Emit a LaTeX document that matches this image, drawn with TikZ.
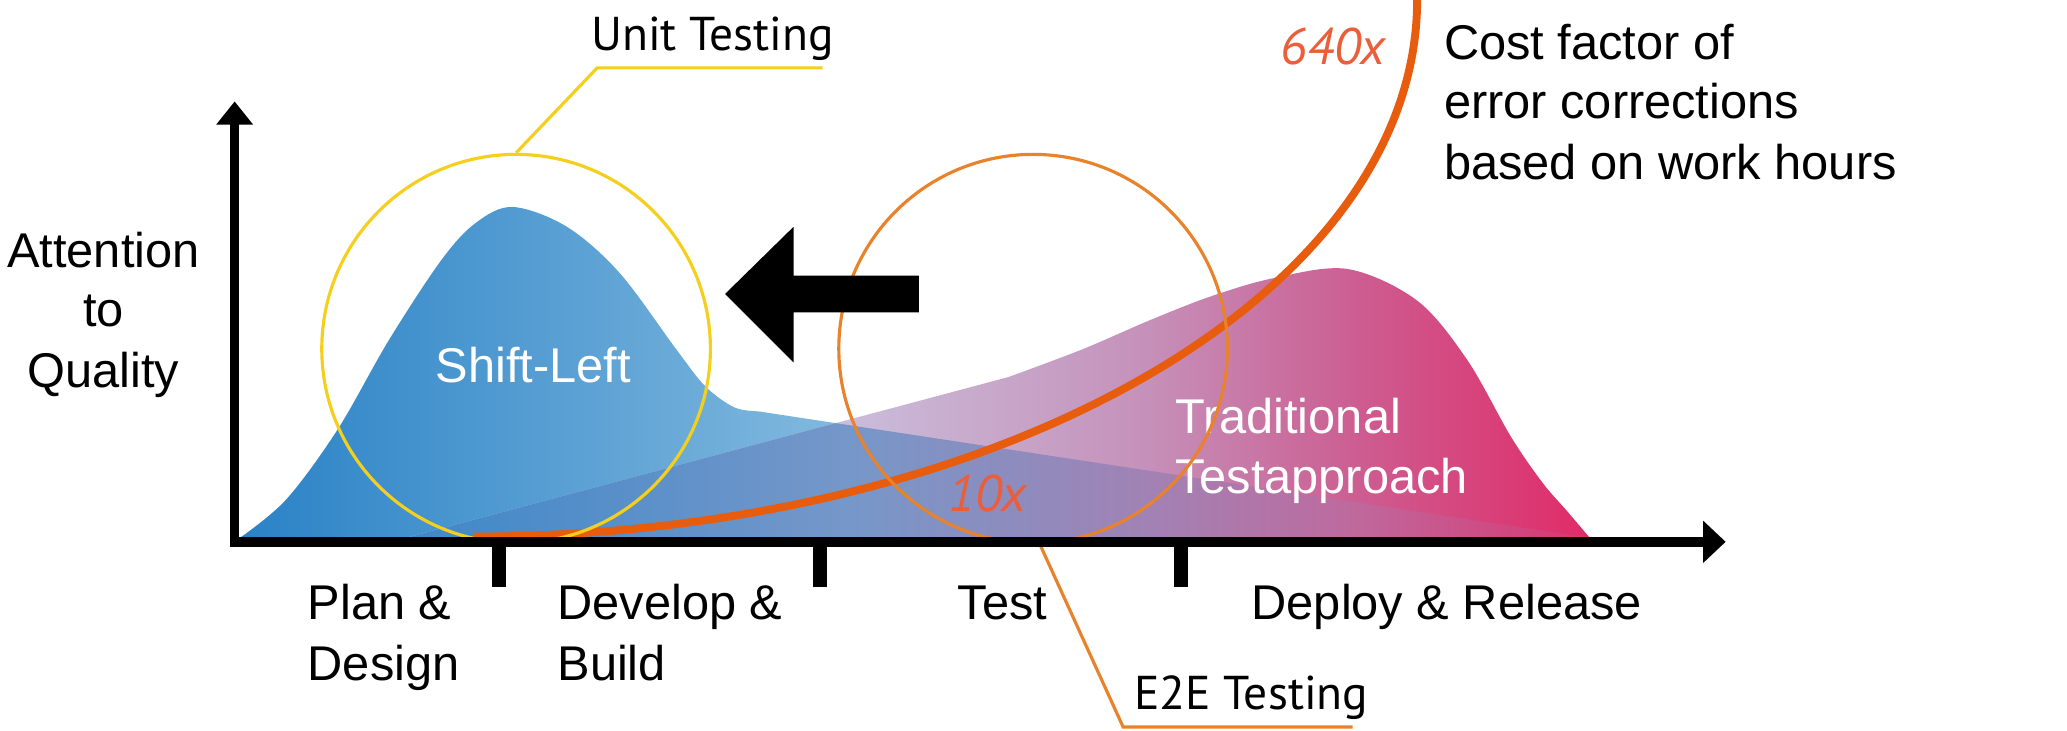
\documentclass[tikz,border=0pt]{standalone}
\usepackage{fontspec}
\setmainfont{Liberation Sans}
\newfontfamily\myrfont{PT Sans}
\definecolor{bA}{HTML}{2A82C6}
\definecolor{bB}{HTML}{83BADF}
\definecolor{pA}{HTML}{CABDDB}
\definecolor{pB}{HTML}{C590B9}
\definecolor{pC}{HTML}{CC5F93}
\definecolor{pD}{HTML}{E12A66}
\definecolor{oA}{HTML}{3C88C9}
\definecolor{oB}{HTML}{7697C9}
\definecolor{oC}{HTML}{A282B4}
\definecolor{oD}{HTML}{BE6A9E}
\definecolor{oE}{HTML}{DA3570}
\definecolor{unitcol}{HTML}{F5CF1D}
\definecolor{e2ecol}{HTML}{E8822B}
\definecolor{costcol}{HTML}{E85C0D}
\definecolor{factcol}{HTML}{EA5F3A}
\def\Bpath{plot[smooth,tension=0.55] coordinates {(182,408) (217,379) (256,326) (295,258) (335,197) (361,169) (389,157) (430,172) (470,207) (513,265) (535,293) (557,309) (575,312)} -- (1200,407) -- (1200,411) -- (182,411) -- cycle}
\def\Ppath{(308,411) -- (308,408) -- plot[smooth,tension=0.55] coordinates {(765,286) (821,265) (872,243) (918,225) (966,211) (1022,204) (1075,228) (1113,273) (1146,331) (1170,366) (1189,388) (1206,408)} -- (1206,411) -- cycle}
\begin{document}
\begin{tikzpicture}[x=0.5pt,y=-0.5pt,
  lbl/.style={font=\fontsize{18.5}{22}\selectfont, inner sep=0pt},
  wlbl/.style={lbl, text=white},
  myr/.style={font=\myrfont\fontsize{18}{22}\selectfont, inner sep=0pt},
  fact/.style={font=\myrfont\itshape\fontsize{19.5}{22}\selectfont, text=factcol, inner sep=0pt},
  ring/.style={circle, draw, line width=1.2pt, minimum size=147.4pt, inner sep=0pt},
  axisfill/.style={fill=black}]
\useasboundingbox (0,0) rectangle (1568,554);
% blue shift-left area
\begin{scope}
  \clip \Bpath;
  \shade[left color=bA, right color=bB] (182,100) rectangle (645,412);
  \fill[bB] (644,100) rectangle (1210,412);
\end{scope}
% traditional area
\begin{scope}
  \clip \Ppath;
  \fill[pA] (300,100) rectangle (641,412);
  \shade[left color=pA, right color=pB] (640,100) rectangle (873,412);
  \shade[left color=pB, right color=pC] (872,100) rectangle (1023,412);
  \shade[left color=pC, right color=pD] (1022,100) rectangle (1210,412);
\end{scope}
% overlap
\begin{scope}
  \clip \Bpath;
  \clip \Ppath;
  \shade[left color=oA, right color=oB] (300,100) rectangle (645,412);
  \shade[left color=oB, right color=oC] (644,100) rectangle (873,412);
  \shade[left color=oC, right color=oD] (872,100) rectangle (1023,412);
  \shade[left color=oD, right color=oE] (1022,100) rectangle (1210,412);
\end{scope}
% white labels
\node[wlbl, anchor=base west] (shift) at (330,290.5) {Shift-Left};
\node[wlbl, anchor=base west] (trad1) at (891,329) {Traditional};
\node[wlbl, anchor=base west] (trad2) at (891,374) {Testapproach};
% cost curve
\coordinate (cs) at (359,407);
\draw[costcol, line width=3pt] (cs) arc[start angle=90, end angle=0, x radius=716, y radius=407];
\node[fact, anchor=base west] (f640) at (971,49) {640x};
\node[fact, anchor=base west] (f10) at (719,388) {10x};
% rings
\node[ring, draw=e2ecol] (oc) at (783.7,264.5) {};
\node[ring, draw=unitcol] (uc) at (391.5,264.5) {};
% leaders
\coordinate (ul1) at (453,51.5);
\coordinate (ul2) at (624,51.5);
\draw[unitcol, line width=1.2pt] (uc.north) -- (ul1) -- (ul2);
\node[myr, anchor=base west] (unit) at (448,38) {Unit Testing};
\coordinate (el1) at (852,551.5);
\coordinate (el2) at (1026,551.5);
\draw[e2ecol, line width=1.2pt] (oc.-88) -- (el1) -- (el2);
\node[myr, anchor=base west] (e2e) at (860,538) {E2E Testing};
% shift arrow
\fill[black] (550,223) -- (602,172) -- (602,209) -- (697,209) -- (697,237) -- (602,237) -- (602,275) -- cycle;
% axes
\fill[axisfill] (174.5,93) rectangle (181.5,415);
\fill[axisfill] (178,77) -- (192,94.5) -- (164,94.5) -- cycle;
\fill[axisfill] (174.5,407.5) rectangle (1293,415);
\fill[axisfill] (1309,411) -- (1292,427) -- (1292,395) -- cycle;
\fill[axisfill] (373.5,411) rectangle (383.5,445);
\fill[axisfill] (617,411) rectangle (627.5,445);
\fill[axisfill] (890.5,411) rectangle (901,445);
% axis labels
\node[lbl, anchor=base] (att) at (78.5,203) {Attention};
\node[lbl, anchor=base] (to) at (78.5,248) {to};
\node[lbl, anchor=base] (qual) at (78.5,294) {Quality};
\node[lbl, anchor=base west] (plan) at (233,470) {Plan \&};
\node[lbl, anchor=base west] (design) at (233,516) {Design};
\node[lbl, anchor=base west] (dev) at (422.5,470) {Develop \&};
\node[lbl, anchor=base west] (build) at (422.5,516) {Build};
\node[lbl, anchor=base west] (test) at (726,470) {Test};
\node[lbl, anchor=base west] (deploy) at (949,470) {Deploy \& Release};
\node[lbl, anchor=base west] (cost1) at (1095,45.5) {Cost factor of};
\node[lbl, anchor=base west] (cost2) at (1095,90) {error corrections};
\node[lbl, anchor=base west] (cost3) at (1095,136.5) {based on work hours};
\end{tikzpicture}
\end{document}
